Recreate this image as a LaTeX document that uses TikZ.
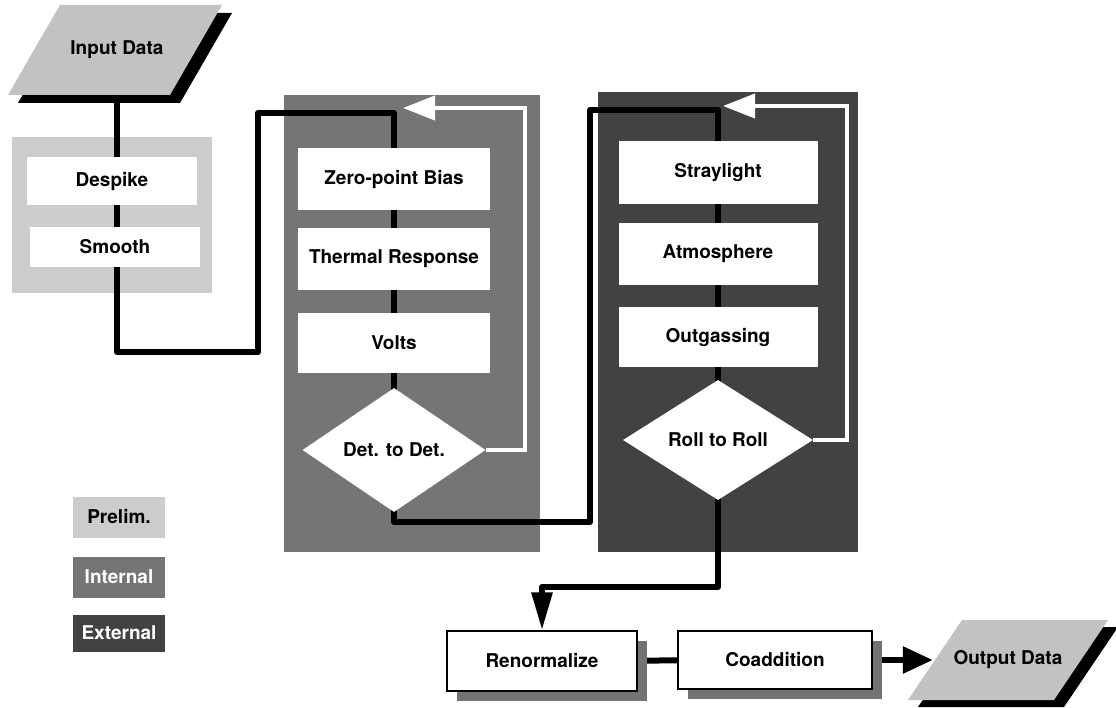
\documentclass[tikz,border=0pt]{standalone}
\usepackage{fontspec}
\setmainfont{TeX Gyre Heros}
\usetikzlibrary{shapes.geometric, arrows.meta, shadows, positioning}
\pgfdeclarelayer{panels}
\pgfdeclarelayer{wires}
\pgfsetlayers{panels,wires,main}
\definecolor{prelimGray}  {gray}{0.80}
\definecolor{internalGray}{gray}{0.46}
\definecolor{externalGray}{gray}{0.26}
\definecolor{dataGray}    {gray}{0.76}
\definecolor{shadowGray}  {gray}{0.45}
\newcommand{\boxfont}{\bfseries\fontsize{19}{22}\selectfont}

\begin{document}
\begin{tikzpicture}[
  x=1pt, y=-1pt,
  panel/.style={rectangle, inner sep=0pt, draw=none},
  stepbox/.style={rectangle, fill=white, inner sep=0pt, font=\boxfont},
  test/.style={diamond, fill=white, inner sep=0pt, font=\boxfont},
  endbox/.style={stepbox, draw=black, line width=1.4pt,
    drop shadow={shadow xshift=10pt, shadow yshift=-10pt,
      fill=shadowGray, opacity=1}},
  label/.style={rectangle, inner sep=0pt, font=\boxfont},
  key/.style={rectangle, inner sep=0pt, minimum width=92pt, font=\boxfont},
  flow/.style={line width=6pt, black, line join=round},
  back/.style={line width=4pt, white, -{Triangle[length=32pt, width=24pt]}},
]
\useasboundingbox (0,0) rectangle (1116,708);

%% Input data
\fill[black] (125,58) ++(-107,45) -- ++(52,-90) -- ++(162,0) -- ++(-52,90) -- cycle;
\fill[dataGray] (115,50) ++(-107,45) -- ++(52,-90) -- ++(162,0) -- ++(-52,90) -- cycle;
\node[label, minimum width=120pt, minimum height=60pt] (in) at (117,50) {Input Data};

%% Stage panels
\begin{pgfonlayer}{panels}
  \node[panel, fill=prelimGray, minimum width=200pt, minimum height=156pt]
    (prelim) at (112,215) {};
  \node[panel, fill=internalGray, minimum width=256pt, minimum height=457pt]
    (internal) at (412,323.5) {};
  \node[panel, fill=externalGray, minimum width=260pt, minimum height=460pt]
    (external) at (728,322) {};
\end{pgfonlayer}

%% Prelim stage
\node[stepbox, minimum width=170pt, minimum height=48pt] (despike) at (112,181) {Despike};
\node[stepbox, minimum width=170pt, minimum height=40pt] (smooth)  at (115,247) {Smooth};

%% Internal stage
\node[stepbox, minimum width=192pt, minimum height=62pt] (zp)    at (394,179) {Zero-point Bias};
\node[stepbox, minimum width=192pt, minimum height=62pt] (tr)    at (394,259) {Thermal Response};
\node[stepbox, minimum width=192pt, minimum height=60pt] (volts) at (394,343) {Volts};
\node[test, minimum width=183pt, minimum height=124pt]   (dd)    at (394,450) {Det. to Det.};

%% External stage
\node[stepbox, minimum width=199pt, minimum height=63pt] (sl)  at (718,173) {Straylight};
\node[stepbox, minimum width=199pt, minimum height=62pt] (atm) at (718,254) {Atmosphere};
\node[stepbox, minimum width=199pt, minimum height=60pt] (og)  at (718,337) {Outgassing};
\node[test, minimum width=190pt, minimum height=120pt]   (rr)  at (718,440) {Roll to Roll};

%% Final steps
\node[endbox, minimum width=190pt, minimum height=60pt] (ren)  at (542,661) {Renormalize};
\node[endbox, minimum width=194pt, minimum height=58pt] (coad) at (775,660) {Coaddition};
\fill[black] (1018,667) ++(-100,40) -- ++(54,-80) -- ++(146,0) -- ++(-54,80) -- cycle;
\fill[dataGray] (1008,660) ++(-100,40) -- ++(54,-80) -- ++(146,0) -- ++(-54,80) -- cycle;
\node[label, minimum width=150pt, minimum height=50pt] (out) at (1008,660) {Output Data};

%% Legend
\node[key, fill=prelimGray, minimum height=41pt]             (kp) at (119,517) {Prelim.};
\node[key, fill=internalGray, text=white, minimum height=41pt] (ki) at (119,577) {Internal};
\node[key, fill=externalGray, text=white, minimum height=37pt] (ke) at (119,633) {External};

%% Turning points
\coordinate (j1) at (258,352);
\coordinate (j2) at (258,113);
\coordinate (j3) at (590,522);
\coordinate (j4) at (590,110);
\coordinate (j5) at (542,587);
\coordinate (k1) at (525,108);
\coordinate (t1) at (403,108);
\coordinate (k2) at (847,106);
\coordinate (t2) at (723,106);

%% Connectors
\begin{pgfonlayer}{wires}
  \draw[flow] (in.center) |- (j1) -- (j2) -| (zp.center);
  \foreach \a/\b in {zp/tr, tr/volts, volts/dd,
                     sl/atm, atm/og, og/rr, ren/coad}{
    \draw[flow] (\a.center) -- (\b.center);
  }
  \draw[flow] (dd.center) |- (j3) -- (j4) -| (sl.center);
  \draw[flow, -{Triangle[length=38pt, width=20pt]}]
    (rr.center) |- (j5) -- (ren.north);
  \draw[flow, -{Triangle[length=30pt, width=26pt]}]
    (coad.center) -- (out.west);
  %% Feedback loops
  \draw[back] (dd.east) -| (k1) -- (t1);
  \draw[back] (rr.east) -| (k2) -- (t2);
\end{pgfonlayer}
\end{tikzpicture}
\end{document}
